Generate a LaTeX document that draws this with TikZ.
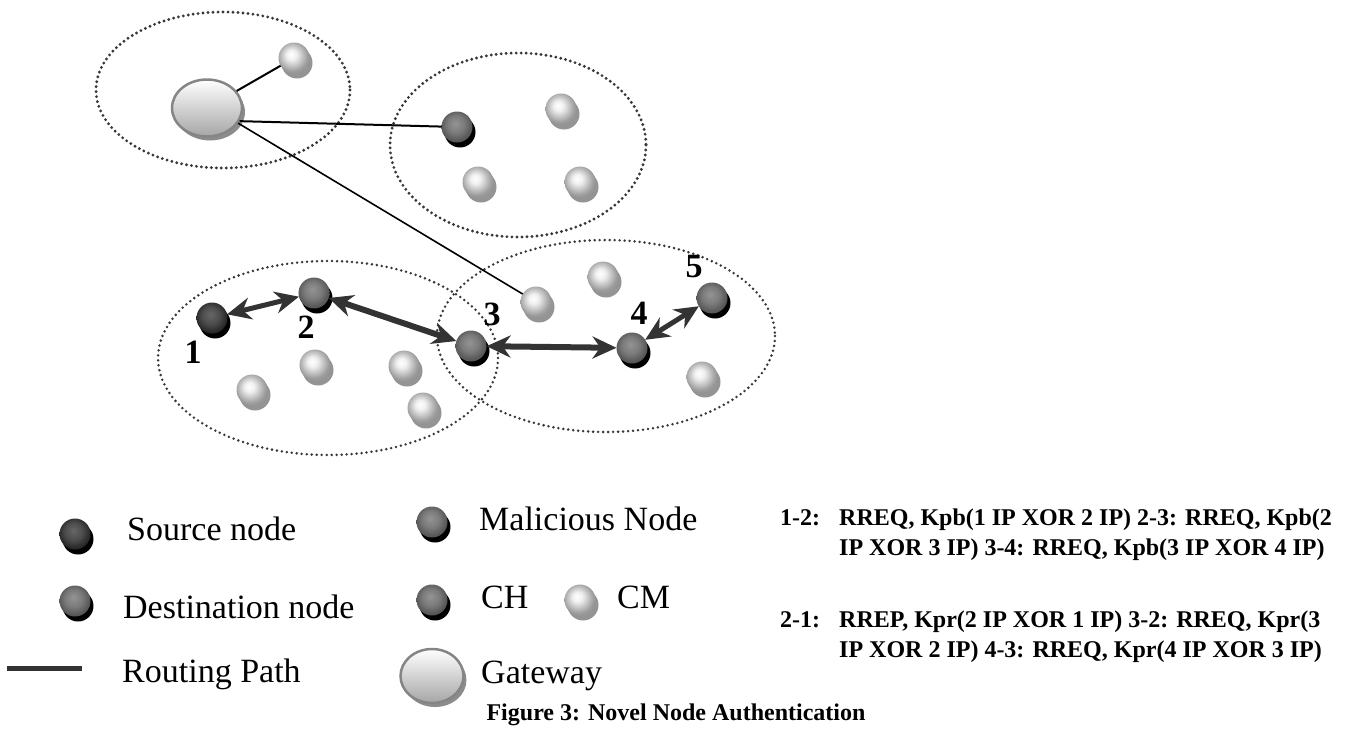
\documentclass[tikz,border=0pt]{standalone}
\usepackage{fontspec}
\setmainfont{Liberation Serif}
\usetikzlibrary{shapes.geometric,arrows.meta,shadows}

\pgfdeclareradialshading{cmshade}{\pgfpoint{-5bp}{6bp}}{color(0bp)=(white); color(8bp)=(black!6); color(17bp)=(black!24); color(25bp)=(black!40); color(50bp)=(black!40)}
\pgfdeclareradialshading{chshade}{\pgfpoint{-3bp}{6bp}}{color(0bp)=(black!42); color(14bp)=(black!52); color(25bp)=(black!66); color(50bp)=(black!66)}
\pgfdeclareradialshading{srcshade}{\pgfpoint{-3bp}{6bp}}{color(0bp)=(black!60); color(14bp)=(black!70); color(25bp)=(black!84); color(50bp)=(black!84)}

\tikzset{
  ballnode/.style={circle, minimum size=31pt, inner sep=0pt, outer sep=0pt},
  cmball/.style={ballnode, shade, shading=cmshade,
    drop shadow={shadow xshift=3pt, shadow yshift=-5pt, fill=black!42, opacity=1}},
  chball/.style={ballnode, shade, shading=chshade,
    drop shadow={shadow xshift=3pt, shadow yshift=-5pt, fill=black, opacity=1}},
  srcball/.style={ballnode, shade, shading=srcshade,
    drop shadow={shadow xshift=3pt, shadow yshift=-5pt, fill=black, opacity=1}},
  gwnode/.style={ellipse, inner sep=0pt, top color=white, bottom color=black!35,
    draw=black!48, line width=2.5pt,
    drop shadow={shadow xshift=3pt, shadow yshift=-4pt, fill=black!45, opacity=1}},
  dotell/.style={draw=black!78, line width=3.2pt, dash pattern=on 0pt off 5pt, line cap=round},
  dbl/.style={draw=black!80, line width=6pt, <->, >={Stealth[length=24pt,width=22pt]}},
  rline/.style={draw=black, line width=2pt},
  numlbl/.style={font=\fontsize{34}{36}\selectfont\bfseries, inner sep=0pt},
  legtext/.style={font=\fontsize{34}{40}\selectfont, anchor=base west, inner sep=0pt},
  msgtext/.style={font=\fontsize{24}{30}\selectfont\bfseries, anchor=north west, align=left, inner sep=0pt}
}

\begin{document}
\begin{tikzpicture}[x=1pt,y=-1pt]
\path[use as bounding box] (0,0) rectangle (1352,732);

% cluster ellipses
\draw[dotell] (223,90) ellipse [x radius=127, y radius=78];
\draw[dotell] (518,145) ellipse [x radius=128, y radius=92];
\draw[dotell, line width=2.8pt] (328,358) ellipse [x radius=170, y radius=97];
\draw[dotell, line width=2.8pt] (606,336) ellipse [x radius=169, y radius=96];

% top-left cluster
\node[gwnode, minimum width=70pt, minimum height=57pt] (gw) at (207,108) {};
\node[cmball] (cma) at (294,58) {};

% top-right cluster
\node[chball] (chb) at (457,127) {};
\node[cmball] (cmb1) at (561,109) {};
\node[cmball] (cmb2) at (478,182) {};
\node[cmball] (cmb3) at (580,182) {};

% bottom-left cluster
\node[srcball] (n1) at (212,318) {};
\node[chball] (n2) at (314,293) {};
\node[chball] (n3) at (471,346) {};
\node[cmball] (cmc1) at (252,390) {};
\node[cmball] (cmc2) at (315,365) {};
\node[cmball] (cmc3) at (404,366) {};
\node[cmball] (cmc4) at (423,408) {};

% bottom-right cluster
\node[cmball] (cmd1) at (536,302) {};
\node[cmball] (cmd2) at (603,277) {};
\node[chball] (n4) at (632,348) {};
\node[chball] (n5) at (712,298) {};
\node[cmball] (cmd3) at (702,377) {};

% number labels
\node[numlbl] (l1) at (193,352) {1};
\node[numlbl] (l2) at (306,327) {2};
\node[numlbl] (l3) at (492,314) {3};
\node[numlbl] (l4) at (639,313) {4};
\node[numlbl] (l5) at (694,267) {5};

% routing paths
\draw[rline] (gw) -- (cma);
\draw[rline] (gw.-22) -- (chb);
\draw[rline, line width=1.6pt] (gw.-26) -- (cmd1);

% authentication exchanges
\draw[dbl, line width=5pt] (n1) -- (n2);
\draw[dbl] (n2) -- (n3);
\draw[dbl] (n3) -- (n4);
\draw[dbl, line width=5pt] (n4) -- (n5);

% legend
\node[srcball] (lgsrc) at (75,534) {};
\node[legtext] (tsrc) at (127,540) {Source node};
\node[chball] (lgdst) at (75,601) {};
\node[legtext] (tdst) at (123,618) {Destination node};
\coordinate (rpa) at (7,668);
\coordinate (rpb) at (82,668);
\draw[draw=black!80, line width=5pt] (rpa) -- (rpb);
\node[legtext] (trp) at (122,682) {Routing Path};

\node[chball] (lgmal) at (432,522) {};
\node[legtext] (tmal) at (479,530) {Malicious Node};
\node[chball] (lgch) at (432,600) {};
\node[legtext] (tch) at (481,608) {CH};
\node[cmball] (lgcm) at (580,600) {};
\node[legtext] (tcm) at (617,608) {CM};
\node[gwnode, minimum width=63pt, minimum height=54pt] (lggw) at (432,676) {};
\node[legtext] (tgw) at (481,683) {Gateway};

% message descriptions
\node[msgtext] (m1) at (780,504) {\strut\makebox[59pt][l]{1-2:}RREQ, Kpb(1 IP XOR 2 IP) 2-3: RREQ, Kpb(2\\\hspace*{59pt}IP XOR 3 IP) 3-4: RREQ, Kpb(3 IP XOR 4 IP)};
\node[msgtext] (m2) at (780,606) {\strut\makebox[59pt][l]{2-1:}RREP, Kpr(2 IP XOR 1 IP) 3-2: RREQ, Kpr(3\\\hspace*{59pt}IP XOR 2 IP) 4-3: RREQ, Kpr(4 IP XOR 3 IP)};

% caption
\node[font=\fontsize{24}{28}\selectfont\bfseries, anchor=base, inner sep=0pt] (cap) at (676,720) {Figure 3: Novel Node Authentication};
\end{tikzpicture}
\end{document}
